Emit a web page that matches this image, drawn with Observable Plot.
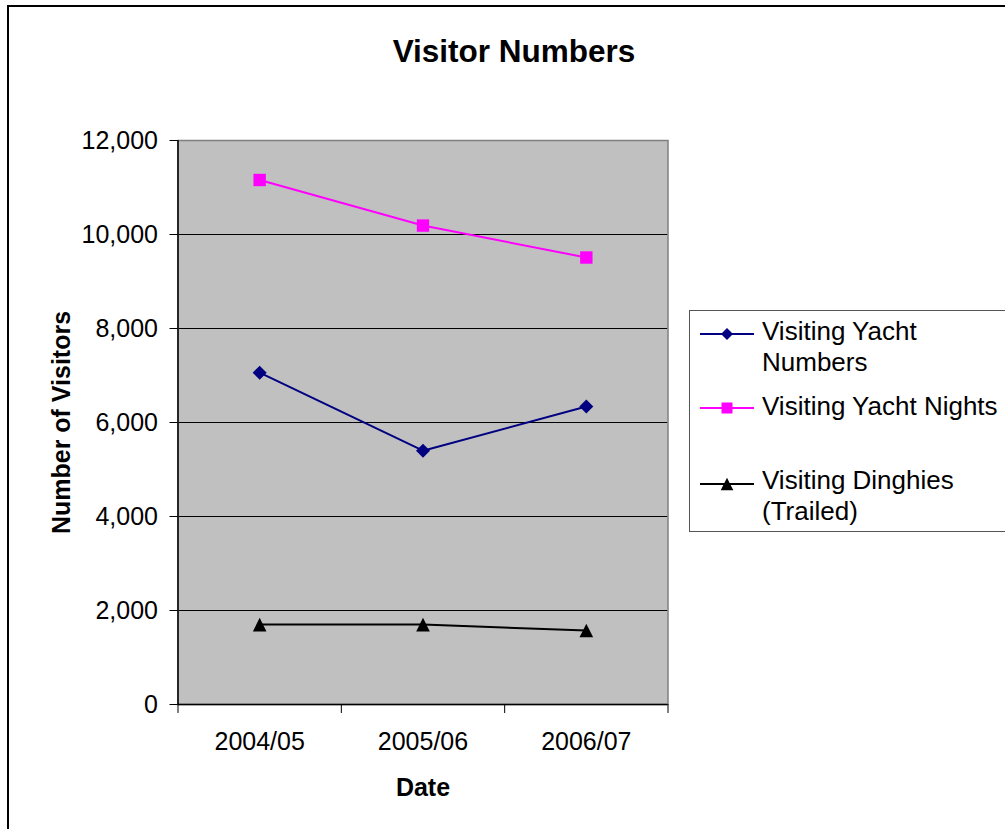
<!DOCTYPE html>
<html>
<head>
<meta charset="utf-8">
<script src="https://cdn.jsdelivr.net/npm/d3@7"></script>
<script src="https://cdn.jsdelivr.net/npm/@observablehq/plot@0.6"></script>
<style>
  html, body { margin: 0; padding: 0; background: #fff; }
  #wrap { position: relative; width: 1005px; height: 829px; overflow: hidden; font-family: "Liberation Sans", Arial, sans-serif; }
  #border { position: absolute; left: 7px; top: 5px; width: 1100px; height: 900px; border: 2px solid #000; box-sizing: border-box; }
  #title { position: absolute; left: 314px; width: 400px; top: 36px; text-align: center; font-weight: bold; font-size: 31.5px; line-height: 31.5px; color: #000; }
  #chart { position: absolute; left: 0; top: 0; }
  #legend { position: absolute; left: 689px; top: 310px; width: 360px; height: 222px; border: 1px solid #555; box-sizing: border-box; }
  .entry { position: absolute; left: 72px; font-size: 26px; line-height: 31px; color: #000; white-space: nowrap; }
  .sw { position: absolute; left: 10px; }
</style>
</head>
<body>
<div id="wrap">
  <div id="border"></div>
  <div id="title"></div>
  <div id="chart"></div>
  <div id="legend"></div>
</div>
<script>
// ---- data ----
const categories = ["2004/05", "2005/06", "2006/07"];
const yachtNumbers = [7060, 5400, 6340];
const yachtNights = [11160, 10190, 9510];
const dinghies = [1700, 1700, 1575];
const yTicks = [0, 2000, 4000, 6000, 8000, 10000, 12000];
const seriesNames = ["Visiting Yacht Numbers", "Visiting Yacht Nights", "Visiting Dinghies (Trailed)"];
const legendLines = [["Visiting Yacht", "Numbers"], ["Visiting Yacht Nights"], ["Visiting Dinghies", "(Trailed)"]];
const colors = ["#000080", "#FF00FF", "#000000"];
const titleText = "Visitor Numbers";
const yLabel = "Number of Visitors";
const xLabel = "Date";

// custom marker shapes
const diamond = {draw(ctx, size) { const r = Math.sqrt(size / Math.PI); ctx.moveTo(0, -r); ctx.lineTo(r, 0); ctx.lineTo(0, r); ctx.lineTo(-r, 0); ctx.closePath(); }};
const square = {draw(ctx, size) { const r = Math.sqrt(size / Math.PI); ctx.rect(-r, -r, 2 * r, 2 * r); }};
const triangle = {draw(ctx, size) { const r = Math.sqrt(size / Math.PI); ctx.moveTo(0, -r); ctx.lineTo(r, r); ctx.lineTo(-r, r); ctx.closePath(); }};
const symbols = [diamond, square, triangle];
const radii = [7, 6.2, 6.8];

const seriesValues = [yachtNumbers, yachtNights, dinghies];
const series = seriesValues.map((vals, s) => vals.map((v, i) => ({x: i + 0.5, y: v, cat: categories[i], series: seriesNames[s]})));

document.getElementById("title").textContent = titleText;

const marks = [
  Plot.frame({fill: "#C0C0C0", stroke: null}),
  Plot.ruleY(yTicks.slice(0, -1), {stroke: "#000", strokeWidth: 1}),
  Plot.frame({stroke: "#808080", strokeWidth: 1.5, fill: null}),
  Plot.ruleX([0], {stroke: "#000", strokeWidth: 1.5}),
  Plot.ruleY([0], {stroke: "#000", strokeWidth: 1.5}),
  Plot.axisY({ticks: yTicks, tickFormat: d3.format(","), tickSize: 8, tickPadding: 12, fontSize: 25, label: null, stroke: "#000"}),
  Plot.axisX({ticks: [0, 1, 2, 3], tickFormat: () => "", tickSize: 9, label: null, stroke: "#000"}),
  Plot.axisX({ticks: [0.5, 1.5, 2.5], tickFormat: d => categories[Math.round(d - 0.5)], tickSize: 0, tickPadding: 28, fontSize: 25, label: null}),
];
series.forEach((data, s) => {
  marks.push(Plot.line(data, {x: "x", y: "y", stroke: colors[s], strokeWidth: 2}));
  marks.push(Plot.dot(data, {x: "x", y: "y", fill: colors[s], stroke: null, symbol: symbols[s], r: radii[s]}));
});
marks.push(Plot.text([yLabel], {frameAnchor: "left", dx: -116, rotate: -90, textAnchor: "middle", fontWeight: "bold", fontSize: 25, lineAnchor: "middle", fill: "#000"}));
marks.push(Plot.text([xLabel], {frameAnchor: "bottom", dy: 74, textAnchor: "middle", fontWeight: "bold", fontSize: 25, lineAnchor: "top", fill: "#000"}));

const chart = Plot.plot({
  width: 1005,
  height: 829,
  marginTop: 140,
  marginBottom: 125,
  marginLeft: 177.5,
  marginRight: 337.5,
  style: {fontFamily: "'Liberation Sans', Arial, sans-serif", background: "transparent", color: "#000", overflow: "visible"},
  x: {type: "linear", domain: [0, 3], axis: null},
  y: {domain: [0, 12000], axis: null},
  marks
});
document.getElementById("chart").appendChild(chart);

// ---- legend ----
const legend = document.getElementById("legend");
const lineYs = [23, 97, 173];   // swatch centers relative to legend box
const textTops = [5, 80, 154];
legendLines.forEach((lines, s) => {
  const ns = "http://www.w3.org/2000/svg";
  const svg = document.createElementNS(ns, "svg");
  svg.setAttribute("width", 56); svg.setAttribute("height", 20);
  svg.setAttribute("class", "sw");
  svg.style.top = (lineYs[s] - 10) + "px";
  const ln = document.createElementNS(ns, "line");
  ln.setAttribute("x1", 0); ln.setAttribute("x2", 54); ln.setAttribute("y1", 10); ln.setAttribute("y2", 10);
  ln.setAttribute("stroke", colors[s]); ln.setAttribute("stroke-width", 2);
  svg.appendChild(ln);
  const p = document.createElementNS(ns, "path");
  const r = [6, 5.5, 6.3][s];
  const path = d3.path();
  symbols[s].draw(path, Math.PI * r * r);
  p.setAttribute("d", path.toString());
  p.setAttribute("transform", "translate(27,10)");
  p.setAttribute("fill", colors[s]);
  svg.appendChild(p);
  legend.appendChild(svg);
  const div = document.createElement("div");
  div.className = "entry";
  div.style.top = textTops[s] + "px";
  div.innerHTML = lines.join("<br>");
  legend.appendChild(div);
});
</script>
</body>
</html>
